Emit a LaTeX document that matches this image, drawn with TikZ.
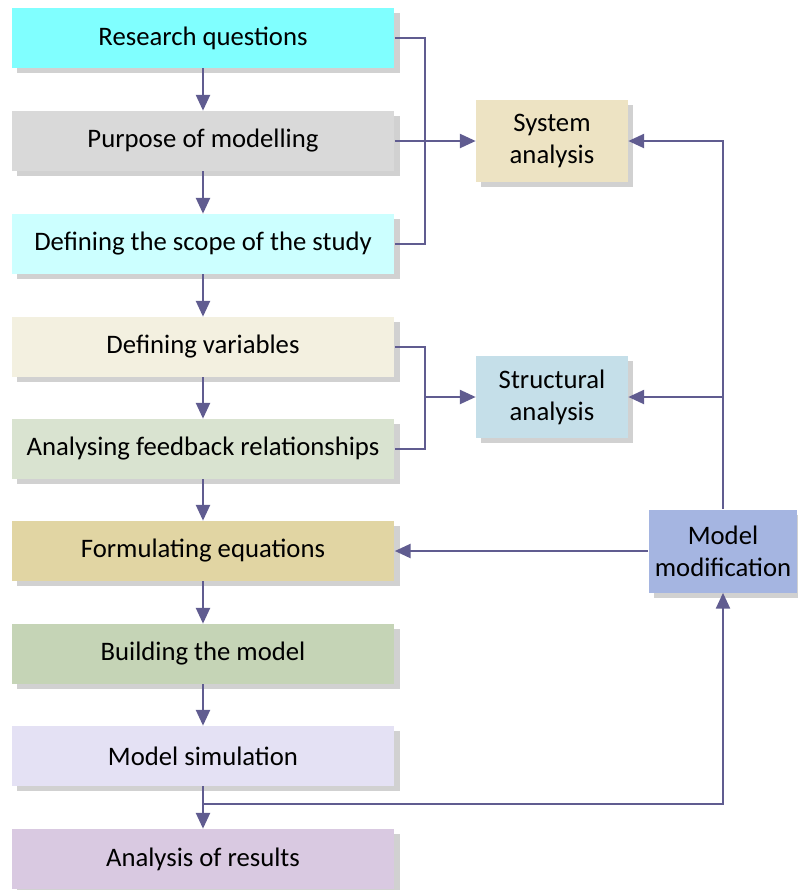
\documentclass[tikz,border=0pt]{standalone}
\usepackage{fontspec}
\setmainfont{Carlito}
\usetikzlibrary{shapes,arrows.meta,positioning,shadows}

\definecolor{linec}{HTML}{605C90}
\definecolor{cResearch}{HTML}{80FFFF}
\definecolor{cPurpose}{HTML}{D9D9D9}
\definecolor{cScope}{HTML}{CCFFFF}
\definecolor{cVariables}{HTML}{F3F0E0}
\definecolor{cFeedback}{HTML}{D9E3D0}
\definecolor{cEquations}{HTML}{E1D5A3}
\definecolor{cBuilding}{HTML}{C5D4B6}
\definecolor{cSimulation}{HTML}{E4E1F4}
\definecolor{cResults}{HTML}{D9C9E1}
\definecolor{cSystem}{HTML}{EDE3C3}
\definecolor{cStructural}{HTML}{C5DFE9}
\definecolor{cModify}{HTML}{A5B5E1}

\begin{document}
\begin{tikzpicture}[x=0.02cm,y=-0.02cm,
  stepbox/.style={draw=none, minimum width=7.66cm, minimum height=1.2cm,
    drop shadow={shadow xshift=3pt, shadow yshift=-3pt, opacity=0.3, fill=black!60},
    font=\fontsize{15.2}{18.2}\selectfont},
  sidebox/.style={stepbox, minimum width=3.04cm, minimum height=1.64cm,
    align=center, inner sep=1pt},
  link/.style={draw=linec, line width=1.2pt},
  arr/.style={link, -{Triangle[length=9pt,width=8pt]}}]

\useasboundingbox (0,0) rectangle (798,890);

% Main chain
\node[stepbox, fill=cResearch]   (rq) at (203,38)  {Research questions};
\node[stepbox, fill=cPurpose]    (pm) at (203,141) {Purpose of modelling};
\node[stepbox, fill=cScope]      (ds) at (203,244) {Defining the scope of the study};
\node[stepbox, fill=cVariables]  (dv) at (203,347) {Defining variables};
\node[stepbox, fill=cFeedback]   (af) at (203,449) {Analysing feedback relationships};
\node[stepbox, fill=cEquations]  (fe) at (203,551) {Formulating equations};
\node[stepbox, fill=cBuilding]   (bm) at (203,654) {Building the model};
\node[stepbox, fill=cSimulation] (ms) at (203,756) {Model simulation};
\node[stepbox, fill=cResults]    (ar) at (203,859) {Analysis of results};

% Side boxes
\node[sidebox, fill=cSystem]     (sa) at (552,141) {System\\analysis};
\node[sidebox, fill=cStructural] (sr) at (552,397) {Structural\\analysis};
\node[sidebox, fill=cModify, minimum width=2.98cm, minimum height=1.66cm]
  (mm) at (723,551) {Model\\modification};

% Downward arrows
\draw[arr] (rq) -- (pm);
\draw[arr] (pm) -- (ds);
\draw[arr] (ds) -- (dv);
\draw[arr] (dv) -- (af);
\draw[arr] (af) -- (fe);
\draw[arr] (fe) -- (bm);
\draw[arr] (bm) -- (ms);
\draw[arr] (ms) -- (ar);

% Brackets to analysis boxes
\draw[link] (rq.east) -- ++(30,0) |- (ds.east);
\draw[arr] (pm.east) -- (sa.west);
\draw[link] (dv.east) -- ++(30,0) |- (af.east);
\coordinate (j2) at (425,397);
\draw[arr] (j2) -- (sr.west);

% Feedback from model modification
\draw[arr] (mm.north) |- (sa.east);
\draw[arr] (mm.north |- sr.east) -- (sr.east);
\draw[arr] (mm.west) -- (fe.east);
\coordinate (j3) at (203,804);
\draw[arr] (j3) -| (mm.south);
\end{tikzpicture}
\end{document}
